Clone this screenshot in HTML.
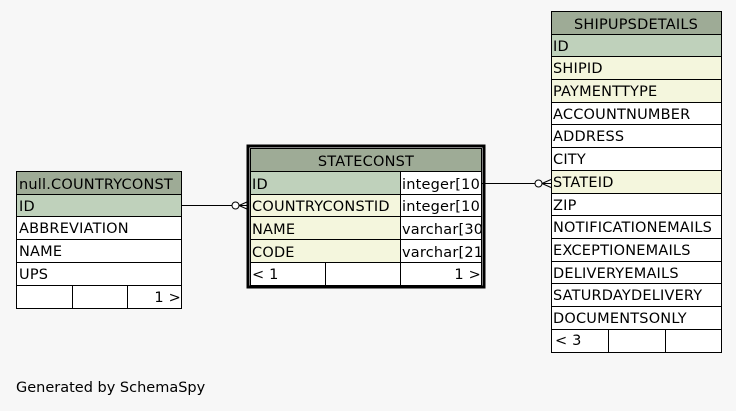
<!DOCTYPE html>
<html><head><meta charset="utf-8"><style>
html,body{margin:0;padding:0;background:#f7f7f7;width:736px;height:411px;overflow:hidden}
svg text{font-family:"DejaVu Sans","Liberation Sans",sans-serif;font-size:14.5px;fill:#000;letter-spacing:0.2px}
</style></head><body>
<svg width="736" height="411" xmlns="http://www.w3.org/2000/svg" shape-rendering="crispEdges">
<defs><clipPath id="c"><rect x="400" y="170" width="82" height="95"/></clipPath></defs>
<rect width="736" height="411" fill="#f7f7f7"/>
<!-- COUNTRYCONST -->
<g stroke="#000" stroke-width="1">
<rect x="16.5" y="171.5" width="165" height="23" fill="#9eab96"/>
<rect x="16.5" y="194.5" width="165" height="22" fill="#bfd1bb"/>
<rect x="16.5" y="216.5" width="165" height="23" fill="#fff"/>
<rect x="16.5" y="239.5" width="165" height="23" fill="#fff"/>
<rect x="16.5" y="262.5" width="165" height="23" fill="#fff"/>
<rect x="16.5" y="285.5" width="165" height="23" fill="#fff"/>
<line x1="72.5" y1="285.5" x2="72.5" y2="308.5"/>
<line x1="127.5" y1="285.5" x2="127.5" y2="308.5"/>
</g>
<text x="19" y="189">null.COUNTRYCONST</text>
<text x="19" y="211">ID</text>
<text x="19" y="233">ABBREVIATION</text>
<text x="19" y="256">NAME</text>
<text x="19" y="279">UPS</text>
<text x="181" y="302" text-anchor="end">1 &gt;</text>

<!-- STATECONST -->
<rect x="248" y="146" width="236" height="141" fill="#fff" stroke="#000" stroke-width="3"/>
<g stroke="#000" stroke-width="1">
<rect x="250.5" y="148.5" width="231" height="23" fill="#9eab96"/>
<rect x="250.5" y="171.5" width="150" height="23" fill="#bfd1bb"/>
<rect x="250.5" y="194.5" width="150" height="22" fill="#f4f6dd"/>
<rect x="250.5" y="216.5" width="150" height="23" fill="#f4f6dd"/>
<rect x="250.5" y="239.5" width="150" height="23" fill="#f4f6dd"/>
<rect x="400.5" y="171.5" width="81" height="23" fill="#fff"/>
<rect x="400.5" y="194.5" width="81" height="22" fill="#fff"/>
<rect x="400.5" y="216.5" width="81" height="23" fill="#fff"/>
<rect x="400.5" y="239.5" width="81" height="23" fill="#fff"/>
<rect x="250.5" y="262.5" width="231" height="23" fill="#fff"/>
<line x1="325.5" y1="262.5" x2="325.5" y2="285.5"/>
<line x1="400.5" y1="262.5" x2="400.5" y2="285.5"/>
</g>
<text x="366" y="166" text-anchor="middle">STATECONST</text>
<text x="252" y="189">ID</text>
<text x="252" y="211">COUNTRYCONSTID</text>
<text x="252" y="234">NAME</text>
<text x="252" y="257">CODE</text>
<g clip-path="url(#c)">
<text x="402" y="189">integer[10]</text>
<text x="402" y="211">integer[10]</text>
<text x="402" y="234">varchar[30]</text>
<text x="402" y="257">varchar[21]</text>
</g>
<text x="252" y="279">&lt; 1</text>
<text x="481" y="279" text-anchor="end">1 &gt;</text>

<!-- SHIPUPSDETAILS -->
<g stroke="#000" stroke-width="1">
<rect x="551.5" y="11.5" width="170" height="23" fill="#9eab96"/>
<rect x="551.5" y="34.5" width="170" height="22" fill="#bfd1bb"/>
<rect x="551.5" y="56.5" width="170" height="23" fill="#f4f6dd"/>
<rect x="551.5" y="79.5" width="170" height="23" fill="#f4f6dd"/>
<rect x="551.5" y="102.5" width="170" height="22" fill="#fff"/>
<rect x="551.5" y="124.5" width="170" height="23" fill="#fff"/>
<rect x="551.5" y="147.5" width="170" height="23" fill="#fff"/>
<rect x="551.5" y="170.5" width="170" height="23" fill="#f4f6dd"/>
<rect x="551.5" y="193.5" width="170" height="22" fill="#fff"/>
<rect x="551.5" y="215.5" width="170" height="23" fill="#fff"/>
<rect x="551.5" y="238.5" width="170" height="23" fill="#fff"/>
<rect x="551.5" y="261.5" width="170" height="22" fill="#fff"/>
<rect x="551.5" y="283.5" width="170" height="23" fill="#fff"/>
<rect x="551.5" y="306.5" width="170" height="23" fill="#fff"/>
<rect x="551.5" y="329.5" width="170" height="23" fill="#fff"/>
<line x1="608.5" y1="329.5" x2="608.5" y2="352.5"/>
<line x1="665.5" y1="329.5" x2="665.5" y2="352.5"/>
</g>
<text x="636" y="29" text-anchor="middle">SHIPUPSDETAILS</text>
<text x="553" y="51">ID</text>
<text x="553" y="73">SHIPID</text>
<text x="553" y="96">PAYMENTTYPE</text>
<text x="553" y="119">ACCOUNTNUMBER</text>
<text x="553" y="141">ADDRESS</text>
<text x="553" y="164">CITY</text>
<text x="553" y="187">STATEID</text>
<text x="553" y="210">ZIP</text>
<text x="553" y="232">NOTIFICATIONEMAILS</text>
<text x="553" y="255">EXCEPTIONEMAILS</text>
<text x="553" y="278">DELIVERYEMAILS</text>
<text x="553" y="300">SATURDAYDELIVERY</text>
<text x="553" y="323">DOCUMENTSONLY</text>
<text x="555" y="345">&lt; 3</text>

<!-- connectors -->
<g stroke="#000" stroke-width="1" fill="none" shape-rendering="auto">
<line x1="182" y1="205.5" x2="232" y2="205.5"/>
<circle cx="235.5" cy="205.5" r="3.5" fill="#fff"/>
<path d="M239 205.5 L248 205.5 M239 205.5 L248 201.5 M239 205.5 L248 209.5"/>
<line x1="482" y1="183.5" x2="535" y2="183.5"/>
<circle cx="538.5" cy="183.5" r="3.5" fill="#fff"/>
<path d="M542 183.5 L551 183.5 M542 183.5 L551 179.5 M542 183.5 L551 187.5"/>
</g>
<text x="16" y="392" style="letter-spacing:0">Generated by SchemaSpy</text>
</svg>
</body></html>
